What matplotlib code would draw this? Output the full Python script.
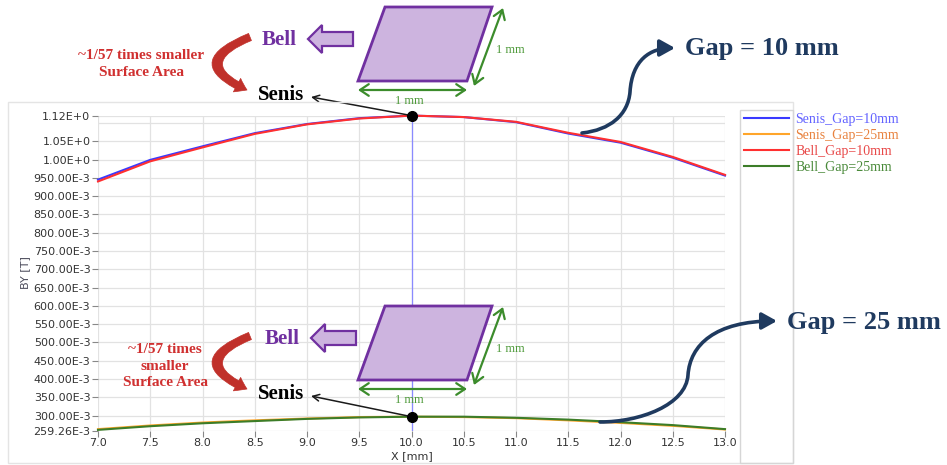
import matplotlib
matplotlib.use("Agg")
import matplotlib.pyplot as plt
import numpy as np
from matplotlib.patches import Polygon, Rectangle, FancyArrowPatch
from matplotlib.path import Path
from matplotlib.ticker import FixedLocator, FuncFormatter

# field profiles along X, 1 mm patch, two gap settings
x_mm = [7.0, 7.5, 8.0, 8.5, 9.0, 9.5, 10.0, 10.5, 11.0, 11.5, 12.0, 12.5, 13.0]
senis_gap10 = [0.945, 0.999, 1.036, 1.072, 1.097, 1.113, 1.120, 1.116, 1.102, 1.071, 1.046, 1.005, 0.956]
senis_gap25 = [0.263, 0.273, 0.281, 0.287, 0.292, 0.296, 0.297, 0.296, 0.293, 0.287, 0.280, 0.272, 0.262]
bell_gap10 = [0.940, 0.995, 1.033, 1.070, 1.096, 1.112, 1.120, 1.116, 1.103, 1.073, 1.048, 1.007, 0.958]
bell_gap25 = [0.261, 0.271, 0.279, 0.285, 0.291, 0.295, 0.297, 0.297, 0.294, 0.289, 0.282, 0.274, 0.263]

series_names = ["Senis_Gap=10mm", "Senis_Gap=25mm", "Bell_Gap=10mm", "Bell_Gap=25mm"]
series_colors = ["#3a3aff", "#ffa52a", "#ff3030", "#3c7d28"]
label_colors = ["#6262ff", "#e8823e", "#e84848", "#4a8a3a"]

y_min, y_max = 0.25926, 1.12
y_ticks = [y_min] + [round(v, 2) for v in np.arange(0.30, 1.051, 0.05)] + [y_max]
x_ticks = x_mm

W, H = 947, 465
SERIF = "Liberation Serif"


def fp(x, y):
    # pixel position (top-left origin) -> figure fraction
    return (x / W, 1 - y / H)


def fmt_by(v, pos):
    if v >= 1:
        return "%.2fE+0" % v
    return "%.2fE-3" % (v * 1000)


fig = plt.figure(figsize=(W / 100, H / 100), dpi=100)
ax = fig.add_axes([98 / W, 1 - 430.5 / H, (725 - 98) / W, (430.5 - 115.6) / H])

for vals, name, col in zip([senis_gap10, senis_gap25, bell_gap10, bell_gap25], series_names, series_colors):
    ax.plot(x_mm, vals, color=col, lw=1.5, label=name, clip_on=False, zorder=3)

ax.set_xlim(7.0, 13.0)
ax.set_ylim(y_min, y_max)
ax.xaxis.set_major_locator(FixedLocator(x_ticks))
ax.xaxis.set_major_formatter(FuncFormatter(lambda v, p: "%.1f" % v))
ax.yaxis.set_major_locator(FixedLocator(y_ticks))
ax.yaxis.set_minor_locator(FixedLocator([1.10]))
ax.yaxis.set_major_formatter(FuncFormatter(fmt_by))
ax.tick_params(axis="both", which="major", labelsize=8, labelcolor="#333333",
               color="#888888", length=4, width=0.8, pad=1.5)
ax.tick_params(axis="y", which="minor", length=0)
ax.grid(True, which="both", color="#e2e2e2", lw=0.9)
ax.set_axisbelow(True)
for s in ax.spines.values():
    s.set_visible(False)

# cursor line at the centre of the patch
ax.axvline(x_mm[6], color="#8a8aff", lw=0.9, zorder=2)
ax.plot([x_mm[6], x_mm[6]], [bell_gap10[6], bell_gap25[6]], "o", color="black",
        ms=7, zorder=5, clip_on=False)

fig.text(*fp(25, 273), "BY [T]", rotation=90, ha="center", va="center",
         fontsize=8, color="#4a4a5a")
fig.text(*fp(412, 456), "X [mm]", ha="center", va="center", fontsize=8, color="#333333")

# panel frame and legend box
fig.patches.append(Rectangle(fp(8, 463), 785 / W, 361 / H, transform=fig.transFigure,
                             fill=False, ec="#e4e4e4", lw=1.0))
fig.patches.append(Rectangle(fp(740, 463), 53 / W, 353 / H, transform=fig.transFigure,
                             fill=False, ec="#d6d6d6", lw=1.0))
ax.legend(loc="upper left", bbox_to_anchor=fp(740, 109), bbox_transform=fig.transFigure,
          frameon=False, prop={"family": SERIF, "size": 10}, labelcolor=label_colors,
          handlelength=3.25, handletextpad=0.45, labelspacing=0.2, borderpad=0.3,
          borderaxespad=0)


def sketch_group(dy, peak, red_lines, red_xy, bell_dx):
    # parallelogram patch and its 1 mm dimensions
    quad = [fp(385, 7 + dy), fp(492, 7 + dy), fp(467, 81 + dy), fp(358, 81 + dy)]
    fig.patches.append(Polygon(quad, closed=True, transform=fig.transFigure,
                               fc="#cdb4df", ec="#7030a0", lw=2))
    for a, b in [((358, 90 + dy), (467, 90 + dy)), ((503, 8 + dy), (474, 86 + dy))]:
        fig.patches.append(FancyArrowPatch(fp(*a), fp(*b), transform=fig.transFigure,
                                           arrowstyle="<->,head_length=0.45,head_width=0.3",
                                           mutation_scale=14, color="#3c8c2c", lw=1.6,
                                           shrinkA=0, shrinkB=0))
    fig.text(*fp(409, 101 + dy), "1 mm", ha="center", va="center", family=SERIF,
             fontsize=9, color="#4e9a3a")
    fig.text(*fp(510, 50 + dy), "1 mm", ha="center", va="center", family=SERIF,
             fontsize=9, color="#4e9a3a")

    # Bell label with block arrow
    fig.text(*fp(279 + bell_dx, 40 + dy), "Bell", ha="center", va="center", family=SERIF,
             fontsize=15, fontweight="bold", color="#7030a0")
    tip = 308 + bell_dx
    arrow = [(tip, 39), (tip + 14, 25), (tip + 14, 32), (tip + 45, 32),
             (tip + 45, 46), (tip + 14, 46), (tip + 14, 53)]
    fig.patches.append(Polygon([fp(px, py + dy) for px, py in arrow], closed=True,
                               transform=fig.transFigure, fc="#cdb4df", ec="#7030a0", lw=1.6))

    # curved red arrow Bell -> Senis
    red_path = Path([fp(250, 37 + dy), fp(186, 63 + dy), fp(247, 90 + dy)],
                    [Path.MOVETO, Path.CURVE3, Path.CURVE3])
    fig.patches.append(FancyArrowPatch(path=red_path, transform=fig.transFigure,
                                       arrowstyle="simple,head_length=8,head_width=11,tail_width=5.5",
                                       mutation_scale=1, fc="#c0302a", ec="#c0302a", lw=0.5))
    fig.text(*fp(*red_xy), red_lines, ha="center", va="center", family=SERIF, fontsize=11,
             fontweight="bold", color="#d03030", linespacing=1.35)

    fig.text(*fp(281, 95 + dy), "Senis", ha="center", va="center", family=SERIF,
             fontsize=15, fontweight="bold", color="black")
    ax.annotate("", xy=fp(311, 97 + dy), xycoords="figure fraction",
                xytext=(x_mm[6], peak), textcoords="data",
                arrowprops=dict(arrowstyle="->", color="#1a1a1a", lw=1.1,
                                shrinkA=3, shrinkB=0, mutation_scale=12))


sketch_group(0, bell_gap10[6], "~1/57 times smaller\nSurface Area", (141, 64), 0)
sketch_group(299, bell_gap25[6], "~1/57 times\nsmaller\nSurface Area", (165, 366), 3)


def gap_callout(pts, label, text_xy):
    verts = [fp(*p) for p in pts]
    codes = [Path.MOVETO] + [Path.CURVE4] * (len(pts) - 1)
    fig.patches.append(FancyArrowPatch(path=Path(verts, codes), transform=fig.transFigure,
                                       arrowstyle="-|>,head_length=0.45,head_width=0.25",
                                       mutation_scale=20, color="#1f3a5f", lw=2.6))
    fig.text(*fp(*text_xy), label, ha="left", va="center", family=SERIF, fontsize=19,
             fontweight="bold", color="#1f3a5f")


gap_callout([(582, 133), (610, 130), (628, 115), (630, 92),
             (632, 60), (650, 48), (675, 48)], "Gap = 10 mm", (685, 48))
gap_callout([(600, 422), (640, 422), (686, 405), (688, 375),
             (690, 345), (715, 321), (777, 321)], "Gap = 25 mm", (787, 322))

fig.savefig("out.png", dpi=100)
